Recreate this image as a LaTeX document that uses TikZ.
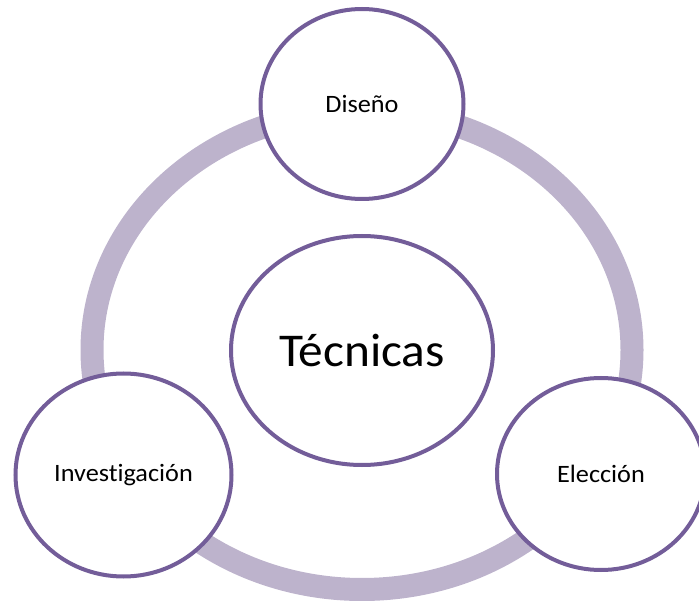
\documentclass[tikz,border=0pt]{standalone}
\usepackage{fontspec}
\setmainfont[RawFeature={-liga}]{Carlito}
\usetikzlibrary{shapes.geometric}
\definecolor{ringcol}{RGB}{189,179,204}
\definecolor{edgecol}{RGB}{115,93,153}
\newcommand{\widetext}[1]{\scalebox{1.05}[1]{#1}}
\tikzset{
  ringshape/.style={ellipse, draw=ringcol, line width=23pt, inner sep=0pt},
  bubble/.style={ellipse, draw=edgecol, fill=white, line width=4pt, inner sep=0pt,
    font=\fontsize{25}{29}\selectfont},
  centerbubble/.style={bubble, font=\fontsize{47}{55}\selectfont}
}
\begin{document}
\begin{tikzpicture}[x=1pt,y=-1pt]
\useasboundingbox (0,0) rectangle (699,601);
\clip (0,0) rectangle (699,601);
\node[ringshape, minimum width=540pt, minimum height=479pt] (ring) at (362,350) {};
\node[bubble, minimum width=203pt, minimum height=190pt] (diseno) at (362,104) {\widetext{Diseño}};
\node[centerbubble, minimum width=262pt, minimum height=229pt] (tecnicas) at (362,350.5) {\widetext{Técnicas}};
\node[bubble, minimum width=216pt, minimum height=203pt] (invest) at (123.5,475) {\widetext{Investigación}};
\node[bubble, minimum width=208pt, minimum height=192pt] (eleccion) at (601,474) {\widetext{Elección}};
\end{tikzpicture}
\end{document}
